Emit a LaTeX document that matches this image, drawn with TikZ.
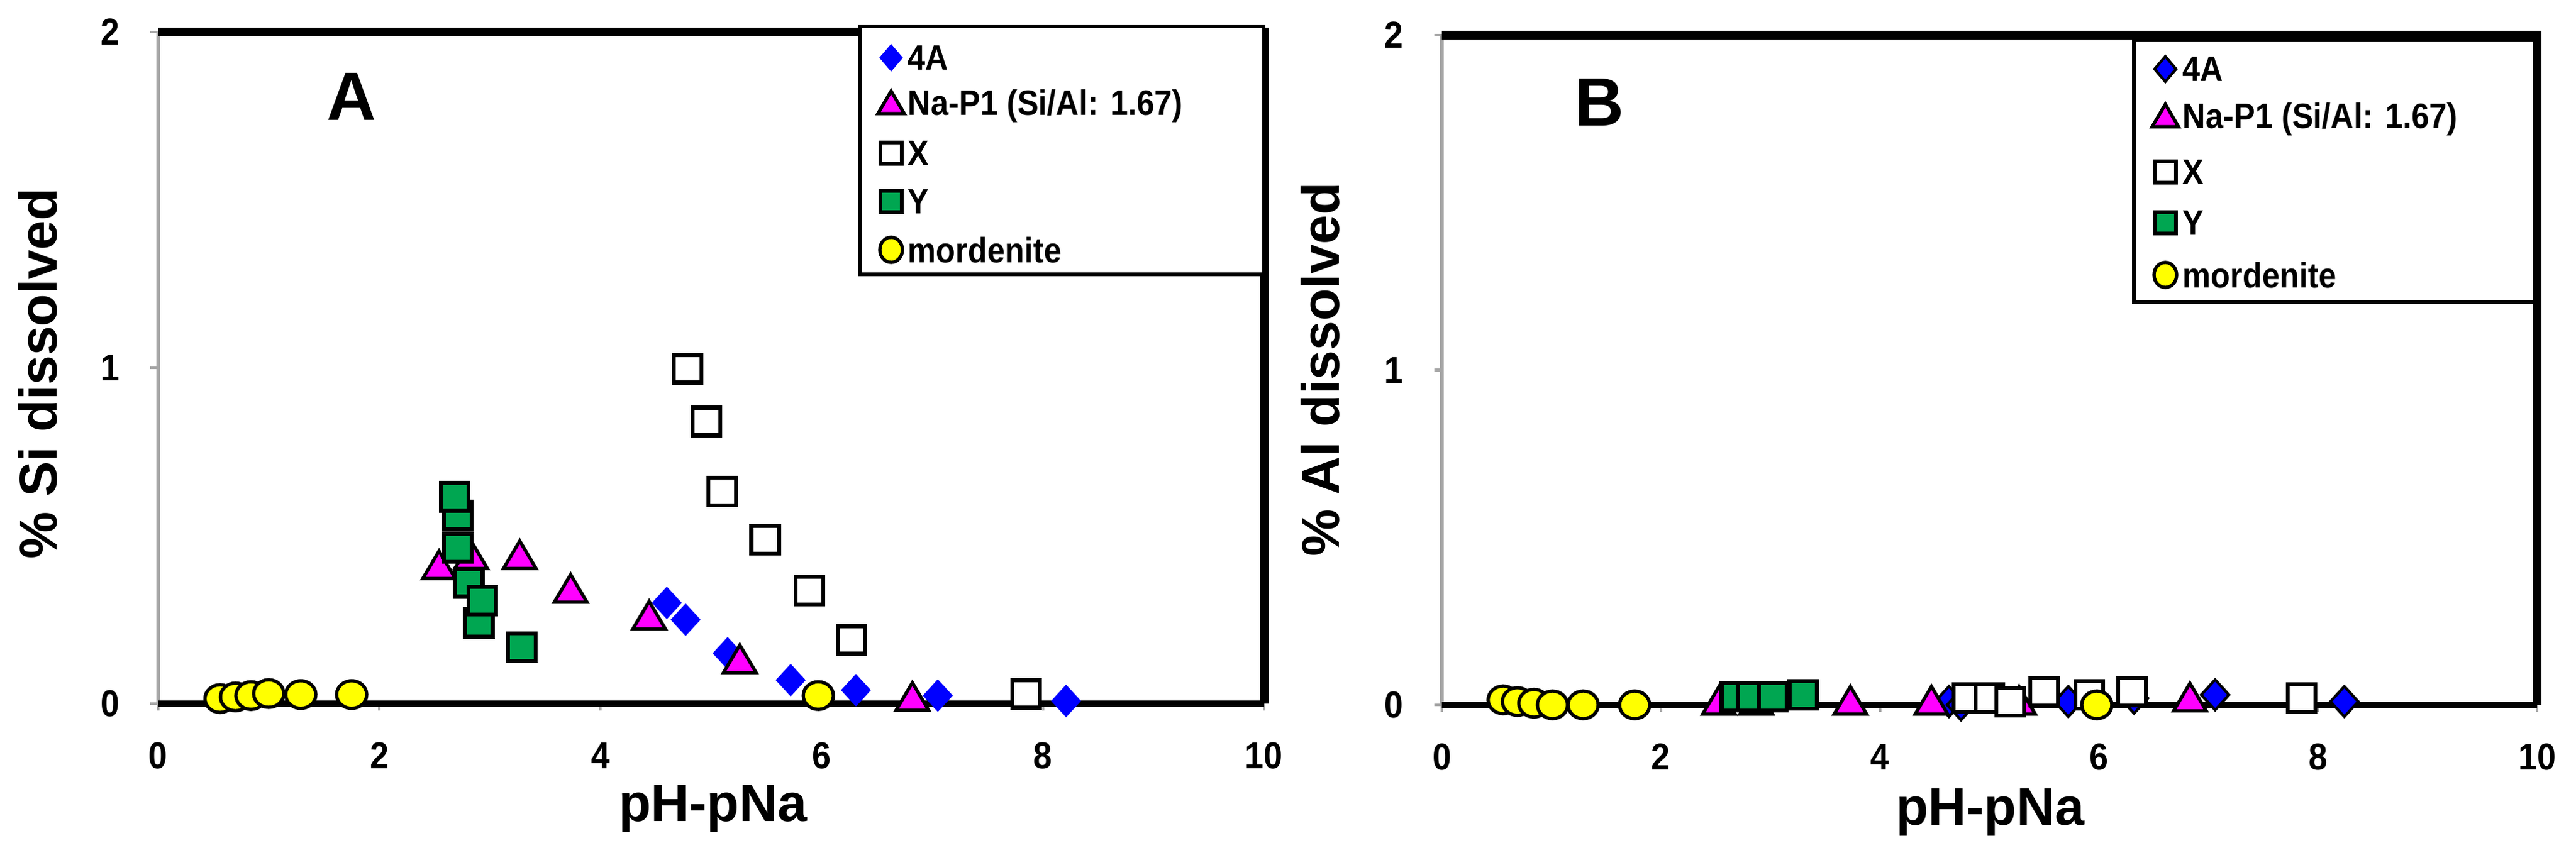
\documentclass[tikz,border=0pt]{standalone}
\usepackage{fontspec}
\setmainfont{Liberation Sans}[FakeStretch=0.9]
\newfontfamily\widefont{Liberation Sans}
\usetikzlibrary{shapes.geometric}
\definecolor{mgreen}{RGB}{0,166,81}
\definecolor{mmag}{RGB}{255,0,255}
\definecolor{mblue}{RGB}{0,0,255}
\definecolor{myel}{RGB}{255,255,0}
\tikzset{
  dia/.style={diamond,fill=mblue,draw=mblue,line width=0.5pt,minimum width=0.46cm,minimum height=0.5cm,inner sep=0,aspect=0.9},
  diaB/.style={dia,draw=black,line width=1.2pt},
  tri/.style={isosceles triangle,shape border rotate=90,isosceles triangle stretches,fill=mmag,draw=black,line width=1.5pt,minimum width=0.52cm,minimum height=0.44cm,inner sep=0},
  sqx/.style={rectangle,fill=white,draw=black,line width=1.8pt,minimum size=0.44cm,inner sep=0},
  sqy/.style={rectangle,fill=mgreen,draw=black,line width=1.8pt,minimum size=0.44cm,inner sep=0},
  circ/.style={ellipse,fill=myel,draw=black,line width=1.5pt,minimum width=0.48cm,minimum height=0.44cm,inner sep=0},
  tick/.style={gray!70,line width=1.2pt},
  ticklab/.style={font=\fontsize{17}{17}\selectfont\bfseries},
  leglab/.style={font=\fontsize{16}{16}\selectfont\bfseries,anchor=west,inner sep=0},
  axtitle/.style={font=\widefont\fontsize{24}{24}\selectfont\bfseries},
}
\begin{document}
\begin{tikzpicture}
\useasboundingbox[fill=white] (0,0) rectangle (41.02,13.42);
% ===== Panel A =====
\begin{scope}[shift={(2.518,2.21)},x=1.761cm,y=5.35cm]
  \coordinate (A00) at (0,0); \coordinate (A10) at (10,0);
  \coordinate (A02) at (0,2); \coordinate (A12) at (10,2);
  \draw[gray!70,line width=1.6pt] (A00) -- (A02);
  \foreach \t in {0,1,2} {\draw[tick] (-0.07,\t) -- (0,\t); \node[ticklab,anchor=east] at (-0.28,\t) {\t};}
  \foreach \t in {0,2,4,6,8,10} {\draw[tick] (\t,0) -- (\t,-0.02); \node[ticklab] at (\t,-0.155) {\t};}
  \draw[line width=3pt] (A00) -- (A10);
  \draw[line width=4pt] (A02) -- (A12) -- (A10);
  \foreach \x/\y [count=\i] in {4.6/0.30,4.77/0.25,5.15/0.15,5.72/0.07,6.31/0.04,7.05/0.024,8.21/0.008}
    \node[dia] (ad\i) at (\x,\y) {};
  \foreach \x/\y [count=\i] in {2.54/0.40,2.83/0.43,3.27/0.43,3.73/0.33,4.44/0.25,5.26/0.12,6.82/0.008}
    \node[tri] (at\i) at (\x,\y) {};
  \foreach \x/\y [count=\i] in {4.79/0.997,4.96/0.84,5.10/0.632,5.49/0.488,5.89/0.336,6.27/0.19,7.85/0.029}
    \node[sqx] (ax\i) at (\x,\y) {};
  \foreach \x/\y [count=\i] in {2.71/0.56,2.71/0.464,2.81/0.36,2.90/0.24,2.93/0.307,3.29/0.168,2.68/0.616}
    \node[sqy] (ay\i) at (\x,\y) {};
  \foreach \x/\y [count=\i] in {0.56/0.015,0.70/0.02,0.84/0.024,1.0/0.03,1.29/0.027,1.75/0.027,5.97/0.024}
    \node[circ] (am\i) at (\x,\y) {};
\end{scope}
\node[font=\widefont\fontsize{31}{31}\selectfont\bfseries] (labA) at (5.6,11.88) {A};
\node[axtitle,rotate=90] (ytA) at (0.6,7.47) {\% Si dissolved};
\node[axtitle] (xtA) at (11.35,0.54) {pH-pNa};
\draw[line width=1.6pt,fill=white] (13.70,13.0) rectangle (20.126,9.05);
\node[dia,minimum width=0.36cm,minimum height=0.42cm] (lA1) at (14.19,12.50) {};
\node[tri,minimum width=0.42cm,minimum height=0.36cm] (lA2) at (14.19,11.73) {};
\node[sqx,minimum size=0.34cm] (lA3) at (14.19,10.98) {};
\node[sqy,minimum size=0.34cm] (lA4) at (14.19,10.21) {};
\node[circ,minimum width=0.36cm,minimum height=0.40cm] (lA5) at (14.19,9.44) {};
\node[leglab] (tA1) at (14.45,12.50) {4A};
\node[leglab] (tA2) at (14.45,11.73) {Na-P1 (Si/Al: 1.67)};
\node[leglab] (tA3) at (14.45,10.98) {X};
\node[leglab] (tA4) at (14.45,10.21) {Y};
\node[leglab] (tA5) at (14.45,9.44) {mordenite};
% ===== Panel B =====
\begin{scope}[shift={(22.96,2.19)},x=1.744cm,y=5.335cm]
  \coordinate (B00) at (0,0); \coordinate (B10) at (10,0);
  \coordinate (B02) at (0,2); \coordinate (B12) at (10,2);
  \draw[gray!70,line width=1.6pt] (B00) -- (B02);
  \foreach \t in {0,1,2} {\draw[tick] (-0.07,\t) -- (0,\t); \node[ticklab,anchor=east] at (-0.28,\t) {\t};}
  \foreach \t in {0,2,4,6,8,10} {\draw[tick] (\t,0) -- (\t,-0.02); \node[ticklab] at (\t,-0.155) {\t};}
  \draw[line width=3pt] (B00) -- (B10);
  \draw[line width=4pt] (B02) -- (B12) -- (B10);
  \foreach \x/\y [count=\i] in {4.63/0.01,4.74/0.0,5.72/0.01,6.32/0.02,7.06/0.03,8.24/0.01}
    \node[diaB] (bd\i) at (\x,\y) {};
  \foreach \x/\y [count=\i] in {2.53/0.0,2.87/0.0,3.73/0.0,4.47/0.0,5.27/0.0,6.83/0.01}
    \node[tri] (bt\i) at (\x,\y) {};
  \foreach \x/\y [count=\i] in {4.8/0.02,5.0/0.02,5.19/0.01,5.5/0.04,5.91/0.03,6.3/0.04,7.85/0.02}
    \node[sqx] (bx\i) at (\x,\y) {};
  \foreach \x/\y [count=\i] in {2.68/0.025,2.83/0.025,3.02/0.025,3.30/0.03}
    \node[sqy] (by\i) at (\x,\y) {};
  \foreach \x/\y [count=\i] in {0.56/0.015,0.69/0.01,0.84/0.005,1.01/0.0,1.29/0.0,1.76/0.0,5.98/0.0}
    \node[circ] (bm\i) at (\x,\y) {};
\end{scope}
\node[font=\widefont\fontsize{31}{31}\selectfont\bfseries] (labB) at (25.47,11.79) {B};
\node[axtitle,rotate=90] (ytB) at (21.02,7.53) {\% Al dissolved};
\node[axtitle] (xtB) at (31.69,0.48) {pH-pNa};
\draw[line width=1.6pt,fill=white] (33.98,12.78) rectangle (40.36,8.61);
\node[diaB,minimum width=0.36cm,minimum height=0.42cm] (lB1) at (34.48,12.32) {};
\node[tri,minimum width=0.42cm,minimum height=0.36cm] (lB2) at (34.48,11.52) {};
\node[sqx,minimum size=0.34cm] (lB3) at (34.48,10.68) {};
\node[sqy,minimum size=0.34cm] (lB4) at (34.48,9.87) {};
\node[circ,minimum width=0.36cm,minimum height=0.40cm] (lB5) at (34.48,9.04) {};
\node[leglab] (tB1) at (34.75,12.32) {4A};
\node[leglab] (tB2) at (34.75,11.52) {Na-P1 (Si/Al: 1.67)};
\node[leglab] (tB3) at (34.75,10.68) {X};
\node[leglab] (tB4) at (34.75,9.87) {Y};
\node[leglab] (tB5) at (34.75,9.04) {mordenite};
\end{tikzpicture}
\end{document}
